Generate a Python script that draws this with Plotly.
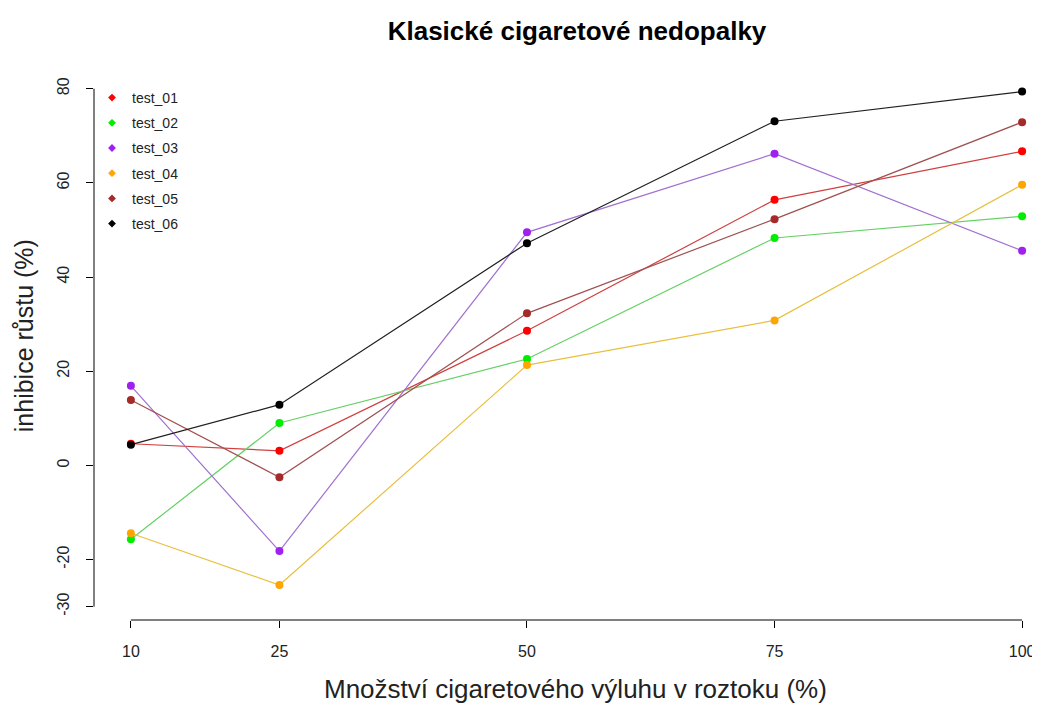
import plotly.graph_objects as go

x_vals = [10, 25, 50, 75, 100]
series_names = ["test_01", "test_02", "test_03", "test_04", "test_05", "test_06"]
test_01 = [4.6, 3.1, 28.6, 56.4, 66.7]
test_02 = [-15.7, 9.0, 22.6, 48.3, 52.9]
test_03 = [16.9, -18.2, 49.5, 66.2, 45.6]
test_04 = [-14.4, -25.4, 21.3, 30.8, 59.6]
test_05 = [13.9, -2.5, 32.3, 52.3, 72.9]
test_06 = [4.4, 12.9, 47.2, 73.1, 79.4]
series_values = [test_01, test_02, test_03, test_04, test_05, test_06]
colors = ["#FF0000", "#00EE00", "#A020F0", "#FFA500", "#A52A2A", "#000000"]
line_colors = ["#D04040", "#66D066", "#A070D0", "#E8C040", "#A05050", "#202020"]
y_ticks = [-30, -20, 0, 20, 40, 60, 80]
y_ticktext = ["-30", "-20", "0", "20", "40", "60", "80"]
x_ticktext = ["10", "25", "50", "75", "100"]

FONT = "Liberation Sans, Arial, sans-serif"

fig = go.Figure()
for name, vals, c, lc in zip(series_names, series_values, colors, line_colors):
    fig.add_trace(go.Scatter(
        x=x_vals, y=vals, mode="lines+markers", name=name,
        line=dict(color=lc, width=1.2),
        marker=dict(color=c, size=8),
        showlegend=False, cliponaxis=False,
    ))
for name, c in zip(series_names, colors):
    fig.add_trace(go.Scatter(
        x=[None], y=[None], mode="markers", name=name,
        marker=dict(color=c, size=6, symbol="diamond"),
        legendgroup=name, showlegend=True,
    ))

# page body has an ~8px offset; figure coords = target picture coords - 8
L, R, T, B = 86, 13, 60, 92
W, H = 1040, 704
pw = W - L - R
ph = H - T - B

fig.update_layout(
    width=W, height=H,
    margin=dict(l=L, r=R, t=T, b=B),
    paper_bgcolor="white", plot_bgcolor="white",
    font=dict(family=FONT, color="black"),
    title=dict(text="<b>Klasické cigaretové nedopalky</b>",
               x=569 / W, xanchor="center", y=1 - 23 / H, yanchor="middle",
               font=dict(size=26, family=FONT, color="black")),
    xaxis=dict(range=[6.275, 101.0], tickvals=x_vals, ticktext=x_ticktext,
               ticks="outside", ticklen=7, tickcolor="black", tickwidth=1,
               showgrid=False, zeroline=False, showline=False,
               tickfont=dict(size=16, family=FONT, color="#222"),
               ticklabelstandoff=10),
    yaxis=dict(range=[-32.83, 84.4], tickvals=y_ticks, ticktext=y_ticktext,
               ticks="outside", ticklen=7, tickcolor="black", tickwidth=1,
               showgrid=False, zeroline=False, showline=False, tickangle=-90,
               tickfont=dict(size=16, family=FONT, color="#222"),
               ticklabelstandoff=11),
    legend=dict(x=-2 / pw, xanchor="left", y=1 - (74 - T) / ph, yanchor="top",
                bgcolor="rgba(0,0,0,0)", font=dict(size=14, family=FONT, color="#222"),
                tracegroupgap=4, itemwidth=30),
    shapes=[
        dict(type="line", xref="x", yref="paper", x0=x_vals[0], x1=x_vals[-1], y0=0, y1=0,
             line=dict(color="black", width=1)),
        dict(type="line", xref="paper", yref="y", x0=0, x1=0, y0=y_ticks[0], y1=y_ticks[-1],
             line=dict(color="black", width=1)),
    ],
    annotations=[
        dict(text="Množství cigaretového výluhu v roztoku (%)", xref="paper", yref="paper",
             x=(569 - L) / pw, y=-69 / ph, xanchor="center", yanchor="middle",
             showarrow=False, font=dict(size=26, family=FONT, color="#222")),
        dict(text="inhibice růstu (%)", xref="paper", yref="paper",
             x=(16 - L) / pw, y=(H - B - 328) / ph, xanchor="center", yanchor="middle",
             textangle=-90, showarrow=False, font=dict(size=25, family=FONT, color="#222")),
    ],
)

fig.write_html("out.html")
